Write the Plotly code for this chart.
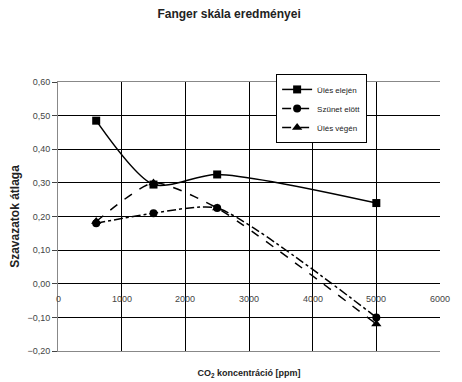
import plotly.graph_objects as go

co2 = [600, 1500, 2500, 5000]
ules_elejen = [0.485, 0.295, 0.325, 0.24]
szunet_elott = [0.18, 0.21, 0.225, -0.10]
ules_vegen = [0.185, 0.30, 0.225, -0.12]
x_ticks = [0, 1000, 2000, 3000, 4000, 5000, 6000]
y_ticks = [-0.2, -0.1, 0.0, 0.1, 0.2, 0.3, 0.4, 0.5, 0.6]

FONT = "Liberation Sans, Arial, sans-serif"

fig = go.Figure()
fig.add_trace(go.Scatter(x=co2, y=ules_elejen, name="Ülés elején", mode="lines+markers",
                         line=dict(color="black", width=1.5, shape="spline", smoothing=0.75),
                         marker=dict(symbol="square", size=8, color="black")))
fig.add_trace(go.Scatter(x=co2, y=szunet_elott, name="Szünet elött", mode="lines+markers",
                         line=dict(color="black", width=1.5, dash="dashdot", shape="spline", smoothing=0.6),
                         marker=dict(symbol="circle", size=8, color="black")))
fig.add_trace(go.Scatter(x=co2, y=ules_vegen, name="Ülés végén", mode="lines+markers",
                         line=dict(color="black", width=1.5, dash="dash", shape="spline", smoothing=0.6),
                         marker=dict(symbol="triangle-up", size=9, color="black")))

for t in x_ticks:
    fig.add_annotation(x=t, y=0, xref="x", yref="y", text=str(t), showarrow=False,
                       yanchor="top", yshift=-8, font=dict(family=FONT, size=9, color="#444"))

fig.update_layout(
    width=454, height=374,
    margin=dict(l=50, r=22, t=74, b=31, autoexpand=False),
    paper_bgcolor="white", plot_bgcolor="white",
    separators=", ",
    title=dict(text="<b>Fanger skála eredményei</b>", x=0.487, xref="container", xanchor="center",
               y=0.984, yanchor="middle",
               font=dict(family=FONT, size=12, color="#222")),
    showlegend=True,
    legend=dict(x=0.571, y=1.03, xanchor="left", yanchor="top", bgcolor="white",
                bordercolor="black", borderwidth=1, font=dict(family=FONT, size=8, color="#222"),
                tracegroupgap=0, itemwidth=30),
    xaxis=dict(range=[0, 6000], tickvals=x_ticks, showticklabels=False, showgrid=True,
               gridcolor="black", gridwidth=1, zeroline=False, showline=True, linecolor="#888",
               mirror=True, automargin=False,
               title=dict(text="<b>CO<sub>2</sub> koncentráció [ppm]</b>", standoff=18,
                          font=dict(family=FONT, size=9, color="#222"))),
    yaxis=dict(range=[-0.2, 0.6], tickvals=y_ticks, tickformat=".2f", showgrid=True,
               gridcolor="black", gridwidth=1, zeroline=False, showline=True, linecolor="#888",
               ticks="outside", ticklen=5, tickcolor="#444", automargin=False,
               tickfont=dict(family=FONT, size=9, color="#444"),
               title=dict(text="<b>Szavazatok átlaga</b>", standoff=10,
                          font=dict(family=FONT, size=12, color="#222"))),
)

fig.write_html("out.html")
